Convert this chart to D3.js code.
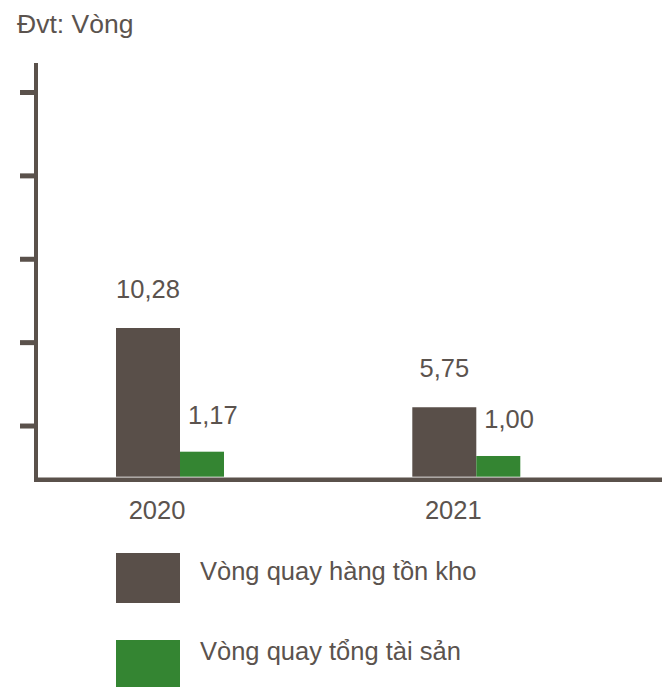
<!DOCTYPE html>
<html>
<head>
<meta charset="utf-8">
<script src="https://cdn.jsdelivr.net/npm/d3@7"></script>
<style>
  body { margin: 0; background: #fff; }
  svg text { font-family: "Liberation Sans", Arial, sans-serif; fill: #5b534e; }
</style>
</head>
<body>
<script>
const years = ["2020", "2021"];
const inventoryTurnover = [10.28, 5.75];
const assetTurnover = [1.17, 1.00];
const seriesNames = ["Vòng quay hàng tồn kho", "Vòng quay tổng tài sản"];
const valueLabels = [["10,28", "5,75"], ["1,17", "1,00"]];
const unitLabel = "Đvt: Vòng";
const tickCount = [1, 2, 3, 4, 5];

const width = 662;
const height = 687;
const darkColor = "#594f49";
const greenColor = "#348532";
const axisColor = "#5a514b";

const baseY = 476.7;

const svg = d3.select("body")
    .append("svg")
    .attr("width", width)
    .attr("height", height);

// category positions (the seam between the two bars of a year)
const x = d3.scalePoint()
    .domain(years)
    .range([180, 476.3]);

// the source chart is not drawn to a common scale, each series has its own
const yDark = d3.scaleLinear()
    .domain([1.78, 10.28])
    .range([baseY, 328]);

const yGreen = d3.scaleLinear()
    .domain([0.18, 1.17])
    .range([baseY, 451.7]);

// decorative tick marks on the left axis
const yTicks = d3.scaleLinear()
    .domain([0, 5])
    .range([508.9, 92]);

const darkW = 64;
const greenW = 44;

// title
svg.append("text")
    .attr("x", 17)
    .attr("y", 33)
    .style("font-size", "26.5px")
    .text(unitLabel);

// bars
svg.selectAll(".bar-dark")
    .data(inventoryTurnover)
    .enter()
    .append("rect")
    .attr("class", "bar-dark")
    .attr("x", (d, i) => x(years[i]) - darkW)
    .attr("y", d => yDark(d))
    .attr("width", darkW)
    .attr("height", d => baseY - yDark(d))
    .style("fill", darkColor);

svg.selectAll(".bar-green")
    .data(assetTurnover)
    .enter()
    .append("rect")
    .attr("class", "bar-green")
    .attr("x", (d, i) => x(years[i]))
    .attr("y", d => yGreen(d))
    .attr("width", greenW)
    .attr("height", d => baseY - yGreen(d))
    .style("fill", greenColor);

// value labels
svg.selectAll(".lbl-dark")
    .data(inventoryTurnover)
    .enter()
    .append("text")
    .attr("class", "lbl-dark")
    .attr("x", (d, i) => x(years[i]) - darkW / 2)
    .attr("y", d => yDark(d) - 30)
    .attr("text-anchor", "middle")
    .style("font-size", "25.5px")
    .text((d, i) => valueLabels[0][i]);

svg.selectAll(".lbl-green")
    .data(assetTurnover)
    .enter()
    .append("text")
    .attr("class", "lbl-green")
    .attr("x", (d, i) => x(years[i]) + 8)
    .attr("y", d => yGreen(d) - 28)
    .style("font-size", "25.5px")
    .text((d, i) => valueLabels[1][i]);

// axes
const yAxis = d3.axisLeft(yTicks)
    .tickValues(tickCount)
    .tickSize(16)
    .tickFormat("");

const yg = svg.append("g")
    .attr("transform", "translate(36,0)")
    .call(yAxis);
yg.select(".domain").remove();
yg.selectAll(".tick line")
    .attr("stroke", axisColor)
    .attr("stroke-width", 5);

svg.append("line")
    .attr("x1", 36).attr("x2", 36)
    .attr("y1", 63).attr("y2", 482)
    .attr("stroke", axisColor)
    .attr("stroke-width", 4);

svg.append("line")
    .attr("x1", 34).attr("x2", width)
    .attr("y1", 479.7).attr("y2", 479.7)
    .attr("stroke", axisColor)
    .attr("stroke-width", 4.4);

// year labels
svg.selectAll(".year")
    .data(years)
    .enter()
    .append("text")
    .attr("class", "year")
    .attr("x", d => x(d) - 23)
    .attr("y", 519)
    .attr("text-anchor", "middle")
    .style("font-size", "25.5px")
    .text(d => d);

// legend
const legend = svg.selectAll(".legend")
    .data(seriesNames)
    .enter()
    .append("g")
    .attr("class", "legend")
    .attr("transform", (d, i) => `translate(116, ${553 + i * 87})`);

legend.append("rect")
    .attr("width", 64)
    .attr("height", 50)
    .style("fill", (d, i) => i === 0 ? darkColor : greenColor);

legend.append("text")
    .attr("x", 84)
    .attr("y", (d, i) => i === 0 ? 27 : 20)
    .style("font-size", "25.5px")
    .text(d => d);
</script>
</body>
</html>
